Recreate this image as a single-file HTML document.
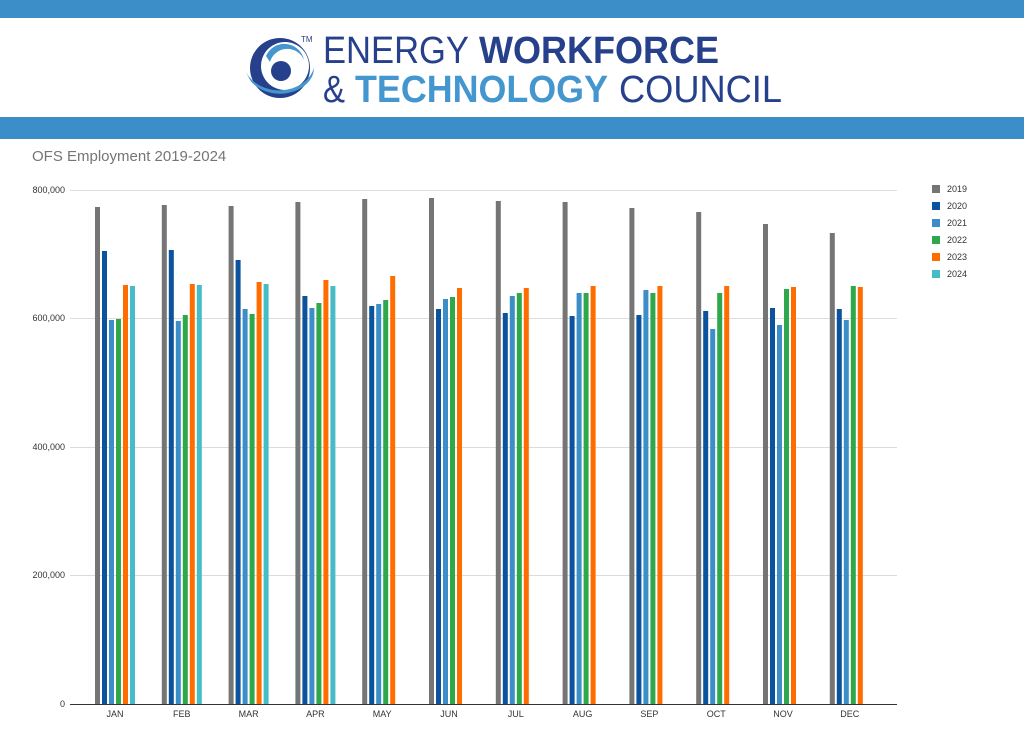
<!DOCTYPE html>
<html><head><style>
body{margin:0;width:1024px;height:750px;background:#fff;overflow:hidden;font-family:"Liberation Sans",sans-serif}
</style></head><body>
<svg width="1024" height="750" xmlns="http://www.w3.org/2000/svg" font-family="Liberation Sans, sans-serif">
<rect x="0" y="0" width="1024" height="18" fill="#3b8ec7"/>
<rect x="0" y="117" width="1024" height="22" fill="#3b8ec7"/>
<!-- logo -->
<circle cx="280" cy="68" r="30" fill="#26408b"/>
<circle cx="285" cy="66" r="24" fill="#fff"/>
<path d="M246 72 A36 30 0 0 0 314 68 A34 26 0 0 1 250 80 Z" fill="#4496cf"/>
<path d="M266 56 A20 20 0 0 1 304 60 A18 18 0 0 0 270 62 Z" fill="#4496cf"/>
<circle cx="281" cy="71" r="10" fill="#26408b"/>
<text x="301" y="42" font-size="8" fill="#26408b">TM</text>
<text x="323" y="63" font-size="38" fill="#26408b" textLength="146" lengthAdjust="spacingAndGlyphs">ENERGY</text>
<text x="479" y="63" font-size="38" font-weight="bold" fill="#26408b" textLength="240" lengthAdjust="spacingAndGlyphs">WORKFORCE</text>
<text x="323" y="102" font-size="38" fill="#26408b" textLength="22" lengthAdjust="spacingAndGlyphs">&amp;</text>
<text x="355" y="102" font-size="38" font-weight="bold" fill="#4496cf" textLength="253" lengthAdjust="spacingAndGlyphs">TECHNOLOGY</text>
<text x="619" y="102" font-size="38" fill="#26408b" textLength="163" lengthAdjust="spacingAndGlyphs">COUNCIL</text>
<text x="32" y="161" font-size="15" fill="#757575">OFS Employment 2019-2024</text>
<!-- grid -->
<g stroke="#dcdcdc" stroke-width="1">
<line x1="70" y1="190.5" x2="897" y2="190.5"/>
<line x1="70" y1="318.5" x2="897" y2="318.5"/>
<line x1="70" y1="447.5" x2="897" y2="447.5"/>
<line x1="70" y1="575.5" x2="897" y2="575.5"/>
</g>
<line x1="70" y1="704.5" x2="897" y2="704.5" stroke="#333"/>
<g font-size="9" fill="#333" text-anchor="end">
<text x="65" y="193">800,000</text>
<text x="65" y="321">600,000</text>
<text x="65" y="450">400,000</text>
<text x="65" y="578">200,000</text>
<text x="65" y="707">0</text>
</g>
<g id="bars"></g>
<g id="lbl" font-size="9" fill="#333" text-anchor="middle"></g>
<g font-size="9" fill="#333">
<rect x="932" y="185" width="8" height="8" fill="#757575"/><text x="947" y="192">2019</text>
<rect x="932" y="202" width="8" height="8" fill="#0b539d"/><text x="947" y="209">2020</text>
<rect x="932" y="219" width="8" height="8" fill="#3b8ec7"/><text x="947" y="226">2021</text>
<rect x="932" y="236" width="8" height="8" fill="#2ea84a"/><text x="947" y="243">2022</text>
<rect x="932" y="253" width="8" height="8" fill="#ff6d01"/><text x="947" y="260">2023</text>
<rect x="932" y="270" width="8" height="8" fill="#46bdc6"/><text x="947" y="277">2024</text>
</g>
</svg>
<script>
var tops=[[207,251,320,319,285,286],[205,250,321,315,284,285],[206,260,309,314,282,284],[202,296,308,303,280,286],[199,306,304,300,276],[198,309,299,297,288],[201,313,296,293,288],[202,316,293,293,286],[208,315,290,293,286],[212,311,329,293,286],[224,308,325,289,287],[233,309,320,286,287]];
var cols=["#757575","#0b539d","#3b8ec7","#2ea84a","#ff6d01","#46bdc6"];
var m=["JAN","FEB","MAR","APR","MAY","JUN","JUL","AUG","SEP","OCT","NOV","DEC"];
var ns="http://www.w3.org/2000/svg",g=document.getElementById("bars"),l=document.getElementById("lbl");
tops.forEach(function(t,i){var x0=95+66.8*i;t.forEach(function(y,j){var r=document.createElementNS(ns,"rect");r.setAttribute("x",x0+j*7);r.setAttribute("y",y);r.setAttribute("width",5);r.setAttribute("height",704-y);r.setAttribute("fill",cols[j]);g.appendChild(r);});
var tx=document.createElementNS(ns,"text");tx.setAttribute("x",x0+20);tx.setAttribute("y",717);tx.textContent=m[i];l.appendChild(tx);});
</script>
</body></html>
